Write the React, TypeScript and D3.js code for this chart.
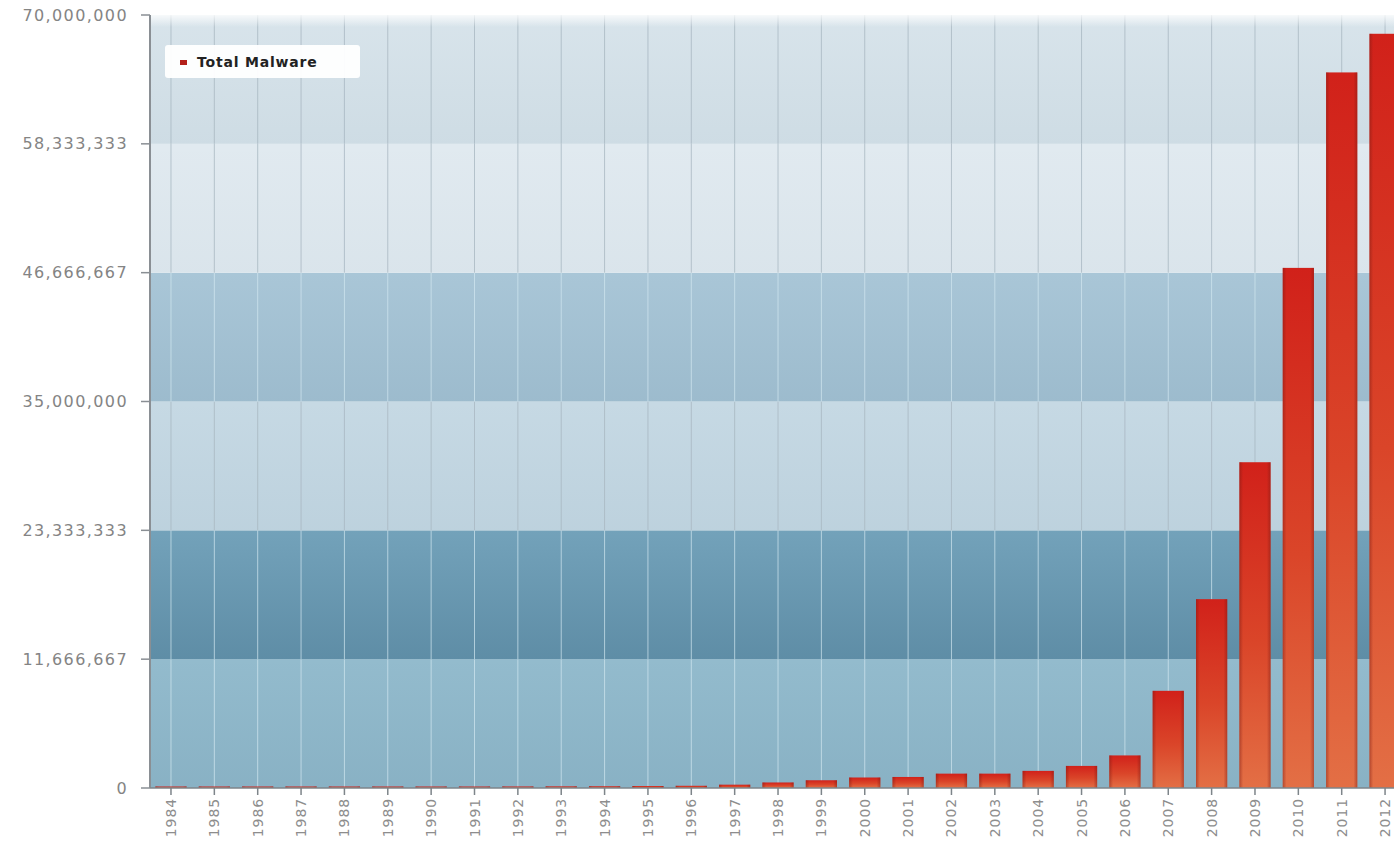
import { scaleBand, scaleLinear } from "d3";

const years = [
  "1984", "1985", "1986", "1987", "1988", "1989", "1990", "1991", "1992", "1993",
  "1994", "1995", "1996", "1997", "1998", "1999", "2000", "2001", "2002", "2003",
  "2004", "2005", "2006", "2007", "2008", "2009", "2010", "2011", "2012",
];

const totalMalware = [
  60000, 70000, 80000, 90000, 100000, 110000, 120000, 130000, 140000, 150000,
  160000, 180000, 200000, 300000, 500000, 700000, 950000, 1000000, 1300000, 1300000,
  1550000, 2000000, 2950000, 8800000, 17100000, 29500000, 47100000, 64800000, 68300000,
];

const yTickValues = [0, 11666667, 23333333, 35000000, 46666667, 58333333, 70000000];
const yTickLabels = ["0", "11,666,667", "23,333,333", "35,000,000", "46,666,667", "58,333,333", "70,000,000"];

// background band fills, bottom to top
const bandFills = ["#93bbcd", "#73a2ba", "#c6d9e4", "#a9c6d7", "#e1eaf0", "#d8e4eb"];
const bandShade = [0.1, 0.3, 0.06, 0.1, 0.04, 0.06];
const bandDark = [true, true, false, true, false, false];

const W = 1394;
const H = 845;
const margin = { top: 15, left: 150, bottom: 788 };

export default function App() {
  const x = scaleBand<string>()
    .domain(years)
    .range([149.3, 149.3 + 29 * 43.36])
    .paddingInner(0.28)
    .paddingOuter(0.14);

  const y = scaleLinear().domain([0, 70000000]).range([margin.bottom, margin.top]);

  const font = "'DejaVu Sans', Verdana, sans-serif";

  return (
    <div style={{ position: "absolute", left: 0, top: 0 }}>
      <svg width={W} height={H} viewBox={`0 0 ${W} ${H}`} style={{ display: "block", background: "#fff" }}>
        <defs>
          <linearGradient id="barGrad" x1="0" x2="0" y1="0" y2="1">
            <stop offset="0%" stopColor="#d1211a" />
            <stop offset="55%" stopColor="#da4529" />
            <stop offset="100%" stopColor="#e36f45" />
          </linearGradient>
          <linearGradient id="barSide" x1="0" x2="1" y1="0" y2="0">
            <stop offset="0%" stopColor="#7a1a14" stopOpacity={0.45} />
            <stop offset="12%" stopColor="#7a1a14" stopOpacity={0} />
            <stop offset="88%" stopColor="#7a1a14" stopOpacity={0} />
            <stop offset="100%" stopColor="#7a1a14" stopOpacity={0.45} />
          </linearGradient>
          <linearGradient id="shade" x1="0" x2="0" y1="0" y2="1">
            <stop offset="0%" stopColor="#2f5d78" stopOpacity={0} />
            <stop offset="100%" stopColor="#2f5d78" stopOpacity={1} />
          </linearGradient>
          <linearGradient id="topFade" x1="0" x2="0" y1="0" y2="1">
            <stop offset="0%" stopColor="#ffffff" stopOpacity={0.8} />
            <stop offset="100%" stopColor="#ffffff" stopOpacity={0} />
          </linearGradient>
        </defs>

        {/* background bands */}
        {bandFills.map((fill, i) => {
          const y0 = y(yTickValues[i + 1]);
          const y1 = y(yTickValues[i]);
          return (
            <g key={`band-${i}`}>
              <rect x={margin.left} y={y0} width={W - margin.left} height={y1 - y0} fill={fill} />
              <rect
                x={margin.left}
                y={y0}
                width={W - margin.left}
                height={y1 - y0}
                fill="url(#shade)"
                fillOpacity={bandShade[i]}
              />
              {years.map((yr) => {
                const cx = (x(yr) ?? 0) + x.bandwidth() / 2;
                return (
                  <line
                    key={`g-${i}-${yr}`}
                    x1={cx}
                    x2={cx}
                    y1={y0}
                    y2={y1}
                    stroke={bandDark[i] ? "#d3e8f1" : "#a9b8c2"}
                    strokeOpacity={bandDark[i] ? 0.7 : 0.8}
                    strokeWidth={1}
                  />
                );
              })}
            </g>
          );
        })}
        <rect x={margin.left} y={margin.top} width={W - margin.left} height={12} fill="url(#topFade)" />

        {/* bars */}
        {years.map((yr, i) => {
          const bx = x(yr) ?? 0;
          const by = y(totalMalware[i]);
          const bh = Math.max(1.5, margin.bottom - by);
          return (
            <g key={`bar-${yr}`}>
              <rect x={bx} y={margin.bottom - bh} width={x.bandwidth()} height={bh} fill="url(#barGrad)" />
              <rect x={bx} y={margin.bottom - bh} width={x.bandwidth()} height={bh} fill="url(#barSide)" />
            </g>
          );
        })}

        {/* y axis */}
        <line x1={margin.left} x2={margin.left} y1={margin.top} y2={margin.bottom} stroke="#8a8f94" strokeWidth={2} />
        {yTickValues.map((v, i) => (
          <g key={`yt-${v}`} transform={`translate(0, ${y(v)})`}>
            <line x1={141} x2={margin.left} y1={0} y2={0} stroke="#8a8f94" strokeWidth={1.5} />
            <text
              x={128}
              dy={5.5}
              textAnchor="end"
              fontFamily={font}
              fontSize={16}
              letterSpacing={1.4}
              fill="#848484"
            >
              {yTickLabels[i]}
            </text>
          </g>
        ))}

        {/* x axis */}
        <line x1={margin.left} x2={W} y1={margin.bottom} y2={margin.bottom} stroke="#7e858a" strokeWidth={1.5} />
        {years.map((yr) => {
          const cx = (x(yr) ?? 0) + x.bandwidth() / 2;
          return (
            <g key={`xt-${yr}`} transform={`translate(${cx}, ${margin.bottom})`}>
              <line x1={0} x2={0} y1={0} y2={7} stroke="#7e858a" strokeWidth={1.5} />
              <text
                transform="translate(0, 10) rotate(-90)"
                dy={5}
                textAnchor="end"
                fontFamily={font}
                fontSize={14}
                letterSpacing={0.9}
                fill="#8d8d8d"
              >
                {yr}
              </text>
            </g>
          );
        })}

        {/* legend */}
        <g transform="translate(165, 45)">
          <rect x={0} y={0} width={195} height={33} rx={3} fill="#ffffff" fillOpacity={0.95} />
          <rect x={15} y={15} width={7} height={5} fill="#b3201a" />
          <text x={32} y={22} fontFamily={font} fontSize={14} letterSpacing={0.8} fontWeight="bold" fill="#222">
            Total Malware
          </text>
        </g>
      </svg>
    </div>
  );
}
